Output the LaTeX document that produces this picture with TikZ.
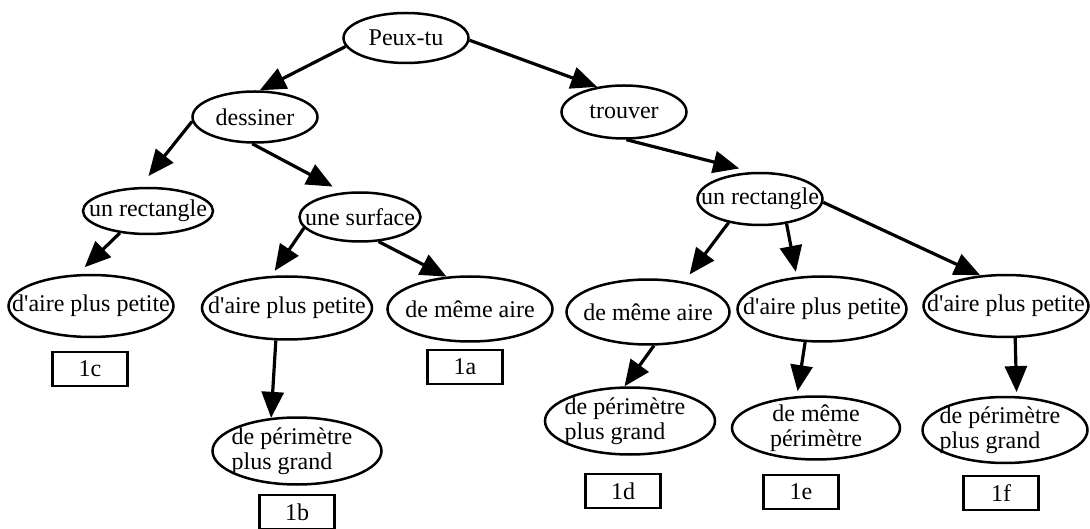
\documentclass[tikz,border=0pt]{standalone}
\usepackage{fontspec}
\setmainfont{Liberation Serif}
\usepackage{tikz}
\usetikzlibrary{arrows.meta,shapes.geometric}

\begin{document}
\begin{tikzpicture}[x=1pt,y=-1pt,>=Triangle]
  \tikzset{
    every node/.style={font=\fontsize{24}{25}\selectfont},
    oval/.style n args={2}{draw,ellipse,line width=2.5pt,inner sep=0pt,
      minimum width=#1,minimum height=#2},
    tag/.style={draw,line width=2.2pt,minimum width=75pt,minimum height=34pt,inner sep=0pt},
    link/.style={-{Triangle[length=26pt,width=22pt]},line width=3.2pt},
    twoline/.style={align=left,xshift=-5pt}
  }
  \useasboundingbox (0,0) rectangle (1090,529);
  \node[oval={125pt}{50pt},label={center:Peux-tu}] (peux) at (406,38) {};
  \node[oval={125pt}{51pt},label={center:dessiner}] (dess) at (255,117) {};
  \node[oval={125pt}{53pt},label={center:trouver}] (trou) at (624,112) {};
  \node[oval={130pt}{46pt},label={center:un rectangle}] (unrL) at (148,211) {};
  \node[oval={121pt}{49pt},label={center:une surface}] (surf) at (360,217) {};
  \node[oval={125pt}{52pt},label={center:un rectangle}] (unrR) at (760,199) {};
  \node[oval={165pt}{62pt},label={center:d\textquotesingle aire plus petite}] (dL) at (91,306) {};
  \node[oval={170pt}{63pt},label={center:d\textquotesingle aire plus petite}] (dMid) at (287,308) {};
  \node[oval={165pt}{65pt},label={center:de même aire}] (amL) at (470,309) {};
  \node[oval={163pt}{65pt},label={center:de même aire}] (amR) at (648,312) {};
  \node[oval={169pt}{65pt},label={center:d\textquotesingle aire plus petite}] (dRm) at (822,309) {};
  \node[oval={165pt}{62pt},label={center:d\textquotesingle aire plus petite}] (dRf) at (1006,306) {};
  \node[oval={169pt}{67pt},label={[twoline]center:de périmètre\\plus grand}] (perM) at (297,451) {};
  \node[oval={170pt}{67pt},label={[twoline]center:de périmètre\\plus grand}] (perR) at (630,421) {};
  \node[oval={168pt}{63pt},label={[align=center]center:de même\\périmètre}] (sameP) at (816,428) {};
  \node[oval={165pt}{66pt},label={[twoline]center:de périmètre\\plus grand}] (perF) at (1005,430) {};
  \node[tag] (t1c) at (90,369) {1c};
  \node[tag] (t1a) at (465,367) {1a};
  \node[tag] (t1b) at (297,512) {1b};
  \node[tag] (t1d) at (623,491) {1d};
  \node[tag] (t1e) at (801,492) {1e};
  \node[tag] (t1f) at (1001,493) {1f};
  \draw[link] (peux.188) -- (dess.80);
  \draw[link] (peux.358) -- (trou.137);
  \draw[link,shorten >=14pt] (dess.184) -- (unrL.109);
  \draw[link,shorten >=12pt] (dess.264) -- (surf.124);
  \draw[link,shorten >=10pt] (unrL.218) -- (dL.113);
  \draw[link,shorten >=6pt] (surf.191) -- (dMid.116);
  \draw[link] (surf.307) -- (amL.126);
  \draw[link] (dMid.251) -- (perM.128);
  \draw[link,shorten >=14pt] (trou.275) -- (unrR.105);
  \draw[link,shorten >=9pt] (unrR.217) -- (amR.40);
  \draw[link,shorten >=5pt] (unrR.317) -- (dRm.128);
  \draw[link] (unrR.357) -- (dRf.130);
  \draw[link] (amR.280) -- (perR.99);
  \draw[link,shorten >=5pt] (dRm.243) -- (sameP.121);
  \draw[link,shorten >=4pt] (dRf.286) -- (perF.71);
\end{tikzpicture}
\end{document}
